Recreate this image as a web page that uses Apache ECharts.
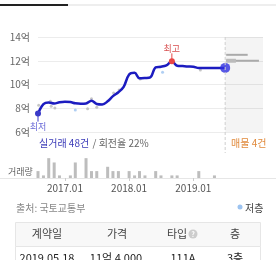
<!DOCTYPE html>
<html>
<head>
<meta charset="utf-8">
<script src="https://cdn.jsdelivr.net/npm/echarts@6/dist/echarts.min.js"></script>
<style>
  html, body { margin: 0; padding: 0; background: #fff; }
  #chart { width: 276px; height: 260px; }
</style>
</head>
<body>
<div id="chart"></div>
<script>
// monthly estimated price (억)
var priceMonths = ['2016-08','2016-09','2016-10','2016-11','2016-12',
  '2017-01','2017-02','2017-03','2017-04','2017-05','2017-06','2017-07','2017-08','2017-09','2017-10','2017-11','2017-12',
  '2018-01','2018-02','2018-03','2018-04','2018-05','2018-06','2018-07','2018-08','2018-09','2018-10','2018-11','2018-12',
  '2019-01','2019-02','2019-03','2019-04','2019-05','2019-06','2019-07'];
var priceValues = [7.55, 8.35, 8.48, 8.4, 8.5,
  8.55, 8.52, 8.42, 8.38, 8.4, 8.64, 8.36, 8.32, 8.58, 9.02, 9.35, 9.8,
  10.85, 10.98, 10.52, 10.55, 10.6, 11.45, 11.5, 11.62, 11.95, 11.58, 11.55, 11.52,
  11.5, 11.38, 11.38, 11.38, 11.38, 11.38, 11.4];

// individual trades
var tradeDates = ['2016-08-05','2016-10-10','2016-10-15','2016-11-05','2017-05-10','2017-06-01','2017-07-01','2017-10-05','2017-11-05','2018-03-05','2019-02-10'];
var tradeValues = [8.25, 8.6, 8.17, 8.03, 7.96, 8.8, 8.08, 9.28, 9.54, 10.46, 11.22];
var lowFloorDates = ['2017-03-01','2018-07-10'];
var lowFloorValues = [7.85, 11.03];

// monthly trade volume
var volMonths = ['2016-08','2016-09','2016-10','2016-11','2016-12','2017-02','2017-03','2017-05','2017-06','2017-07',
  '2017-09','2017-10','2017-11','2018-01','2018-02','2018-03','2018-04','2018-06','2018-07','2018-09','2018-10','2019-02','2019-05'];
var volCounts = [2,1,5,4,1,1,4,5,2,2,3,2,2,2,1,2,1,2,1,1,1,2,1];

// listings panel
var panelStart = '2019-07-01';
var panelEnd = '2020-02-01';
var listingPrices = [12.5, 12.0];
var listingEnds = ['2019-11-06', '2020-01-09'];
var listingCores = [null, '2019-08-31'];
var listingCount = 4;
var turnover = 22;

var xTickDates = ['2017-01-01', '2018-01-01', '2019-01-01'];
var tableHead = ['계약일', '가격', '타입', '층'];
var tableRow = ['2019.05.18', '11억 4,000', '111A', '3층'];

var FONT = '"Noto Sans CJK KR", "Noto Sans", sans-serif';
function ts(s) { if (s.length === 7) s = s + '-01'; return new Date(s + 'T00:00:00').getTime(); }

var minIdx = 0, maxIdx = 0;
priceValues.forEach(function (v, i) {
  if (v < priceValues[minIdx]) minIdx = i;
  if (v > priceValues[maxIdx]) maxIdx = i;
});
var extremes = [
  { i: minIdx, text: '최저', color: '#3a3ac8', textColor: '#6a6ad8', dir: 1 },
  { i: maxIdx, text: '최고', color: '#e84545', textColor: '#d85050', dir: -1 }
];
var totalTrades = volCounts.reduce(function (a, b) { return a + b; }, 0);

var chart = echarts.init(document.getElementById('chart'));
var xMin = ts('2016-08-01'), xMax = ts(panelEnd);

var option = {
  animation: false,
  textStyle: { fontFamily: FONT },
  grid: [
    { left: 38, right: 13, top: 37, height: 95 },
    { left: 38, right: 13, top: 156, height: 22 }
  ],
  xAxis: [
    { type: 'value', gridIndex: 0, min: xMin, max: xMax, show: false },
    {
      type: 'value', gridIndex: 1, min: xMin, max: xMax,
      axisLine: { show: false },
      axisTick: { show: true, length: 3, lineStyle: { color: '#ccc' }, customValues: xTickDates.map(ts) },
      axisLabel: {
        color: '#555', fontSize: 10, margin: 5, fontFamily: FONT,
        customValues: xTickDates.map(ts),
        formatter: function (v) { var d = new Date(v); return d.getFullYear() + '.' + String(d.getMonth() + 1).padStart(2, '0'); }
      },
      splitLine: { show: false }
    }
  ],
  yAxis: [
    {
      type: 'value', gridIndex: 0, min: 6, max: 14, interval: 2,
      axisLine: { show: false }, axisTick: { show: false },
      axisLabel: { color: '#666', fontSize: 10, margin: 8, fontFamily: FONT, formatter: function (v) { return v + '억'; } },
      splitLine: { lineStyle: { color: '#ececec' } }
    },
    { type: 'value', gridIndex: 1, min: 0.4, max: 5.5, show: false }
  ],
  series: [
    {
      type: 'scatter', xAxisIndex: 0, yAxisIndex: 0, symbolSize: 3,
      itemStyle: { color: '#b8b8b8' },
      data: tradeDates.map(function (d, i) { return [ts(d), tradeValues[i]]; })
    },
    {
      type: 'scatter', xAxisIndex: 0, yAxisIndex: 0, symbolSize: 3,
      itemStyle: { color: '#9cc3f0' },
      data: lowFloorDates.map(function (d, i) { return [ts(d), lowFloorValues[i]]; })
    },
    {
      type: 'line', xAxisIndex: 0, yAxisIndex: 0, smooth: 0.35, showSymbol: false,
      lineStyle: { color: '#1c1cc0', width: 2.5 },
      data: priceMonths.map(function (m, i) { return [ts(m), priceValues[i]]; }),
      markArea: {
        silent: true,
        itemStyle: { color: 'rgba(0,0,0,0.045)' },
        data: [[{ xAxis: ts(panelStart) }, { xAxis: ts(panelEnd) }]]
      },
      z: 3
    },
    {
      type: 'custom', xAxisIndex: 0, yAxisIndex: 0, z: 4,
      data: listingPrices.map(function (p, i) { return [ts(panelStart), p, ts(listingEnds[i]), listingCores[i] ? ts(listingCores[i]) : ts(panelStart)]; }),
      renderItem: function (params, api) {
        var a = api.coord([api.value(0), api.value(1)]);
        var b = api.coord([api.value(2), api.value(1)]);
        var c = api.coord([api.value(3), api.value(1)]);
        var kids = [{ type: 'rect', shape: { x: a[0] + 1, y: a[1] - 1, width: b[0] - a[0] - 1, height: 2 }, style: { fill: '#aaa' } }];
        if (c[0] > a[0]) kids.push({ type: 'rect', shape: { x: a[0] + 1, y: a[1] - 2, width: c[0] - a[0] - 1, height: 4 }, style: { fill: '#bbb' } });
        return { type: 'group', children: kids };
      }
    },
    {
      type: 'custom', xAxisIndex: 0, yAxisIndex: 0, z: 6, clip: false,
      data: extremes.map(function (e) { return [ts(priceMonths[e.i]), priceValues[e.i]]; }),
      renderItem: function (params, api) {
        var e = extremes[params.dataIndex];
        var p = api.coord([api.value(0), api.value(1)]);
        return {
          type: 'group', children: [
            { type: 'line', shape: { x1: p[0], y1: p[1], x2: p[0], y2: p[1] + e.dir * 8 }, style: { stroke: e.color, lineWidth: 1 } },
            { type: 'circle', shape: { cx: p[0], cy: p[1], r: 3 }, style: { fill: e.color } },
            { type: 'text', x: p[0], y: p[1] + e.dir * 13, style: { text: e.text, fill: e.textColor, font: '9px ' + FONT, align: 'center', verticalAlign: 'middle' } }
          ]
        };
      }
    },
    {
      type: 'scatter', xAxisIndex: 0, yAxisIndex: 0, symbolSize: 10, z: 6,
      itemStyle: { color: '#2f2fe0' },
      data: [[ts(priceMonths[priceMonths.length - 1]), priceValues[priceValues.length - 1]]]
    },
    {
      type: 'bar', xAxisIndex: 1, yAxisIndex: 1, barWidth: 3,
      itemStyle: { color: '#bdbdbd' },
      data: volMonths.map(function (m, i) { return [ts(m), volCounts[i]]; })
    }
  ],
  graphic: [
    { type: 'rect', shape: { x: 0, y: 4, width: 68, height: 2 }, style: { fill: '#222' } },
    { type: 'rect', shape: { x: 68, y: 4, width: 208, height: 2 }, style: { fill: '#eee' } },
    {
      type: 'text', x: 39, y: 143,
      style: {
        text: '{a|실거래 ' + totalTrades + '건} {b|/ 회전율 ' + turnover + '%}',
        verticalAlign: 'middle',
        rich: {
          a: { fill: '#3a3ab8', fontSize: 10, fontFamily: FONT },
          b: { fill: '#666', fontSize: 10, fontFamily: FONT }
        }
      }
    },
    { type: 'text', x: 231, y: 143, style: { text: '매물 ' + listingCount + '건', fill: '#e08a3c', font: '10px ' + FONT, verticalAlign: 'middle' } },
    { type: 'text', x: 8, y: 172, style: { text: '거래량', fill: '#666', font: '9px ' + FONT, verticalAlign: 'middle' } },
    { type: 'rect', shape: { x: 0, y: 178, width: 276, height: 1 }, style: { fill: '#e6e6e6' } },
    { type: 'text', x: 16, y: 208, style: { text: '출처: 국토교통부', fill: '#888', font: '10px ' + FONT, verticalAlign: 'middle' } },
    { type: 'circle', shape: { cx: 240, cy: 207, r: 2.5 }, style: { fill: '#9cc3f0' } },
    { type: 'text', x: 245, y: 208, style: { text: '저층', fill: '#444', font: '10px ' + FONT, verticalAlign: 'middle' } },
    { type: 'rect', shape: { x: 15.5, y: 222.5, width: 245, height: 24 }, style: { fill: '#f8f8f8', stroke: '#e6e6e6', lineWidth: 1 } },
    { type: 'rect', shape: { x: 15.5, y: 246.5, width: 245, height: 30 }, style: { fill: '#fff', stroke: '#e6e6e6', lineWidth: 1 } },
    { type: 'text', x: 47, y: 234, style: { text: tableHead[0], fill: '#444', font: '11px ' + FONT, align: 'center', verticalAlign: 'middle' } },
    { type: 'text', x: 117, y: 234, style: { text: tableHead[1], fill: '#444', font: '11px ' + FONT, align: 'center', verticalAlign: 'middle' } },
    { type: 'text', x: 177, y: 234, style: { text: tableHead[2], fill: '#444', font: '11px ' + FONT, align: 'center', verticalAlign: 'middle' } },
    { type: 'circle', shape: { cx: 193, cy: 234, r: 4.5 }, style: { fill: '#ccc' } },
    { type: 'text', x: 193, y: 234, style: { text: '?', fill: '#fff', font: 'bold 7px ' + FONT, align: 'center', verticalAlign: 'middle' } },
    { type: 'text', x: 235, y: 234, style: { text: tableHead[3], fill: '#444', font: '11px ' + FONT, align: 'center', verticalAlign: 'middle' } },
    { type: 'text', x: 47, y: 258, style: { text: tableRow[0], fill: '#222', font: '11px ' + FONT, align: 'center', verticalAlign: 'middle' } },
    { type: 'text', x: 116, y: 258, style: { text: tableRow[1], fill: '#222', font: '11px ' + FONT, align: 'center', verticalAlign: 'middle' } },
    { type: 'text', x: 183, y: 258, style: { text: tableRow[2], fill: '#222', font: '11px ' + FONT, align: 'center', verticalAlign: 'middle' } },
    { type: 'text', x: 235, y: 258, style: { text: tableRow[3], fill: '#222', font: '11px ' + FONT, align: 'center', verticalAlign: 'middle' } }
  ]
};
chart.setOption(option);

// dashed divider at the start of the listing panel, from the price grid top down into the summary row
var divX = chart.convertToPixel({ xAxisIndex: 0 }, ts(panelStart));
chart.setOption({
  graphic: option.graphic.concat([
    { type: 'line', shape: { x1: divX, y1: 37, x2: divX, y2: 153 }, style: { stroke: '#cfcfcf', lineWidth: 1, lineDash: [3, 2] }, z: 10 }
  ])
});
</script>
</body>
</html>
